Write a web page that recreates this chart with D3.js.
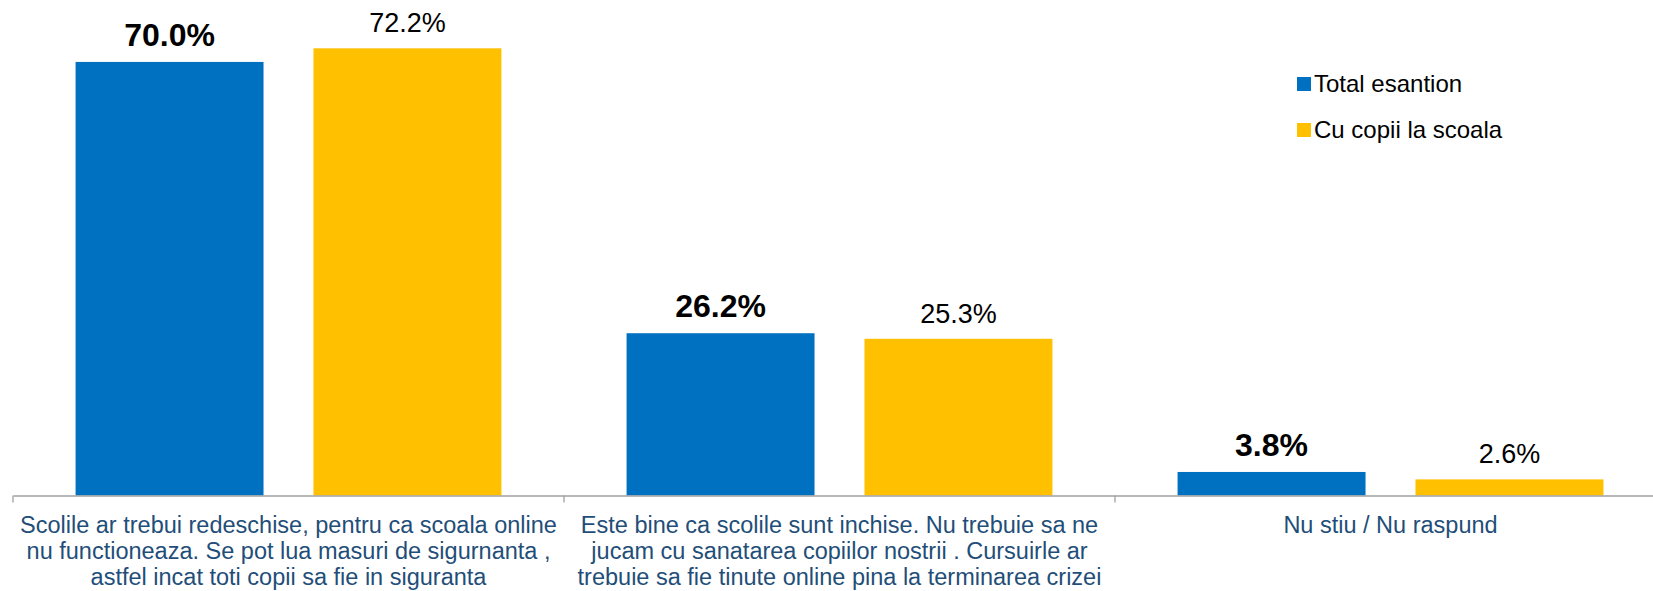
<!DOCTYPE html>
<html>
<head>
<meta charset="utf-8">
<script src="https://cdn.jsdelivr.net/npm/d3@7"></script>
<style>
  body { margin: 0; background: #fff; }
  text { font-family: "Liberation Sans", Arial, sans-serif; }
</style>
</head>
<body>
<script>
const categories = ["c1", "c2", "c3"];

const categoryLabels = [
    ["Scolile ar trebui redeschise, pentru ca scoala online", "nu functioneaza. Se pot lua masuri de sigurnanta ,", "astfel incat toti copii sa fie in siguranta"],
    ["Este bine ca scolile sunt inchise. Nu trebuie sa ne", "jucam cu sanatarea copiilor nostrii . Cursuirle ar", "trebuie sa fie tinute online pina la terminarea crizei"],
    ["Nu stiu / Nu raspund"]
];

const seriesNames = ["Total esantion", "Cu copii la scoala"];
const totalValues = [70.0, 26.2, 3.8];
const copiiValues = [72.2, 25.3, 2.6];

const colors = ["#0070C0", "#FFC000"];

const width = 1653;
const height = 591;
const baseline = 495.5;

const svg = d3.select("body")
    .append("svg")
    .attr("width", width)
    .attr("height", height);

// scales
const x0 = d3.scaleBand()
    .domain(categories)
    .range([13, 13 + 551 * 3]);

const x1 = d3.scaleBand()
    .domain(seriesNames)
    .range([0, x0.bandwidth()])
    .paddingInner(0.21)
    .paddingOuter(0.263);

const y = d3.scaleLinear()
    .domain([0, 80])
    .range([baseline, 0]);

const data = categories.map((c, i) => ({
    cat: c,
    values: [
        { series: seriesNames[0], value: totalValues[i], idx: 0 },
        { series: seriesNames[1], value: copiiValues[i], idx: 1 }
    ]
}));

// bars
const groups = svg.append("g")
    .selectAll("g")
    .data(data)
    .join("g")
    .attr("transform", d => `translate(${x0(d.cat)},0)`);

groups.selectAll("rect")
    .data(d => d.values)
    .join("rect")
    .attr("x", d => x1(d.series))
    .attr("y", d => y(d.value))
    .attr("width", x1.bandwidth())
    .attr("height", d => baseline - y(d.value))
    .attr("fill", d => colors[d.idx]);

// value labels
groups.selectAll("text.val")
    .data(d => d.values)
    .join("text")
    .attr("class", "val")
    .attr("x", d => x1(d.series) + x1.bandwidth() / 2)
    .attr("y", d => y(d.value) - 16)
    .attr("text-anchor", "middle")
    .attr("font-size", d => d.idx === 0 ? 32 : 27)
    .attr("font-weight", d => d.idx === 0 ? "bold" : "normal")
    .attr("fill", "#000")
    .text(d => d.value.toFixed(1) + "%");

// axis
const xAxis = d3.axisBottom(x0).tickSize(0).tickFormat("");
const axisG = svg.append("g")
    .attr("transform", `translate(0,${baseline})`)
    .call(xAxis);
axisG.select(".domain").attr("stroke", "#A0A0A0").attr("stroke-width", 1.3);

// tick marks at category boundaries
axisG.selectAll("line.sep")
    .data(categories)
    .join("line")
    .attr("class", "sep")
    .attr("x1", d => x0(d))
    .attr("x2", d => x0(d))
    .attr("y1", 0)
    .attr("y2", 7)
    .attr("stroke", "#A0A0A0")
    .attr("stroke-width", 1.3);

// category labels
const labelG = svg.append("g");
categories.forEach((c, i) => {
    labelG.append("text")
        .attr("x", x0(c) + x0.bandwidth() / 2)
        .attr("y", 533)
        .attr("text-anchor", "middle")
        .attr("font-size", 23.5)
        .attr("fill", "#1F4E79")
        .selectAll("tspan")
        .data(categoryLabels[i])
        .join("tspan")
        .attr("x", x0(c) + x0.bandwidth() / 2)
        .attr("dy", (d, j) => j === 0 ? 0 : 25.8)
        .text(d => d);
});

// legend
const legend = svg.append("g")
    .attr("transform", "translate(1297,77)");

const items = legend.selectAll("g")
    .data(seriesNames)
    .join("g")
    .attr("transform", (d, i) => `translate(0,${i * 46})`);

items.append("rect")
    .attr("width", 14)
    .attr("height", 14)
    .attr("fill", (d, i) => colors[i]);

items.append("text")
    .attr("x", 17)
    .attr("y", 15)
    .attr("font-size", 24)
    .attr("fill", "#000")
    .text(d => d);
</script>
</body>
</html>
